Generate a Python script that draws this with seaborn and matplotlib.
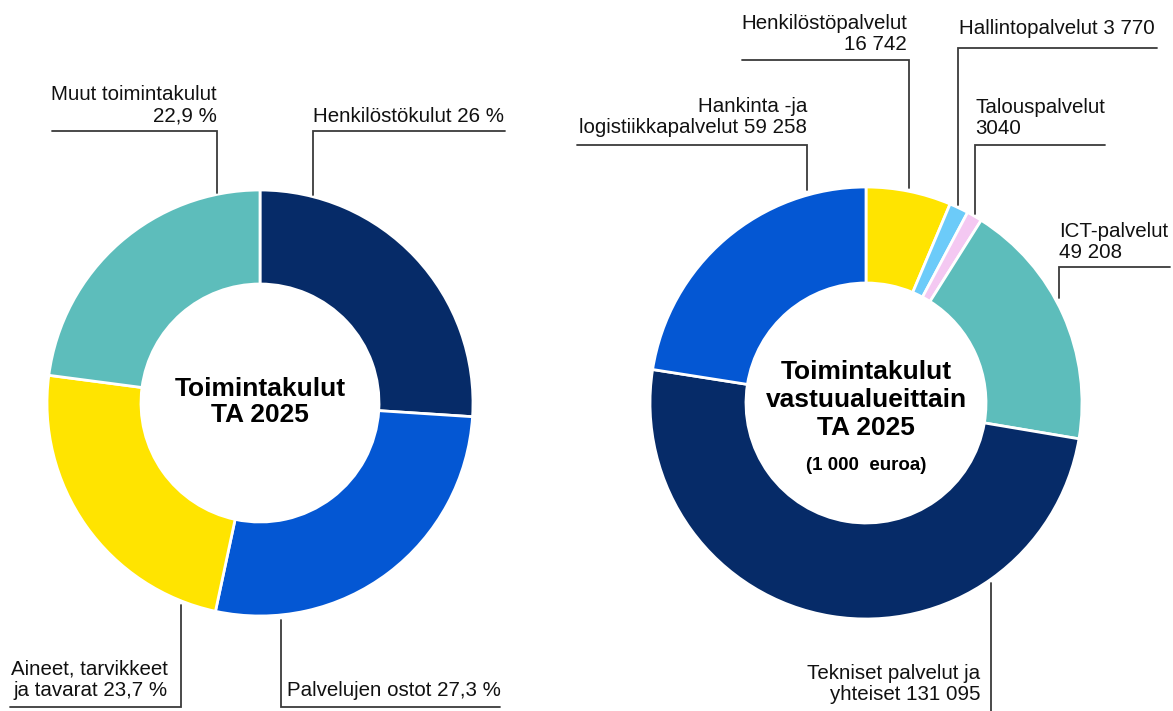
import matplotlib
matplotlib.use("Agg")
import matplotlib.pyplot as plt
import seaborn as sns

# Vasen kaavio: toimintakulut (%)
left_categories = ["Henkilöstökulut", "Palvelujen ostot", "Aineet, tarvikkeet ja tavarat", "Muut toimintakulut"]
left_values = [26.0, 27.3, 23.7, 22.9]
left_texts = ["Henkilöstökulut 26 %", "Palvelujen ostot 27,3 %",
              "Aineet, tarvikkeet\nja tavarat 23,7 %", "Muut toimintakulut\n22,9 %"]

# Oikea kaavio: vastuualueittain (1000 euroa)
right_categories = ["Henkilöstöpalvelut", "Hallintopalvelut", "Talouspalvelut",
                    "ICT-palvelut", "Tekniset palvelut ja yhteiset", "Hankinta- ja logistiikkapalvelut"]
right_values = [16742, 3770, 3040, 49208, 131095, 59258]
right_texts = ["Henkilöstöpalvelut\n16 742", "Hallintopalvelut 3 770", "Talouspalvelut\n3040",
               "ICT-palvelut\n49 208", "Tekniset palvelut ja\nyhteiset 131 095",
               "Hankinta -ja\nlogistiikkapalvelut 59 258"]

NAVY, BLUE, YELLOW, TEAL = "#062B68", "#0457D3", "#FFE400", "#5DBDBB"
left_colors = [NAVY, BLUE, YELLOW, TEAL]
right_colors = [YELLOW, "#6CCBF9", "#F4C8F2", TEAL, NAVY, BLUE]

W, H = 1173, 711

sns.set_theme(style="white")
plt.rcParams["font.family"] = ["Liberation Sans", "DejaVu Sans"]

fig = plt.figure(figsize=(W / 100, H / 100), dpi=100)
ax = fig.add_axes([0, 0, 1, 1])


def Y(y):
    # pikselikoordinaatti ylhäältä -> data-koordinaatti alhaalta
    return H - y


def donut(values, colors, cx, cy, r, hole):
    ax.pie(values, colors=sns.color_palette(colors), startangle=90, counterclock=False,
           radius=r, center=(cx, Y(cy)),
           wedgeprops=dict(width=r - hole, edgecolor="white", linewidth=2))


donut(left_values, left_colors, 260, 403, 213, 119)
donut(right_values, right_colors, 866, 403, 216, 120)

# selitetekstien sijainnit (x, y, ha) ja viivat
left_pos = [(313, 117, "left"), (287, 690, "left"), (168, 680, "right"), (217, 105, "right")]
left_lines = [[(505, 131), (313, 131), (313, 195)],
              [(500, 707), (281, 707), (281, 620)],
              [(10, 707), (181, 707), (181, 605)],
              [(52, 131), (217, 131), (217, 193)]]
right_pos = [(907, 34, "right"), (959, 28, "left"), (975, 118, "left"),
             (1059, 242, "left"), (980, 684, "right"), (807, 117, "right")]
right_lines = [[(742, 60), (909, 60), (909, 188)],
               [(1157, 48), (958, 48), (958, 205)],
               [(1105, 145), (975, 145), (975, 214)],
               [(1170, 267), (1059, 267), (1059, 298)],
               [(991, 583), (991, 711)],
               [(577, 145), (807, 145), (807, 190)]]

for texts, pos, lines in [(left_texts, left_pos, left_lines), (right_texts, right_pos, right_lines)]:
    for t, (x, y, ha), pts in zip(texts, pos, lines):
        ax.text(x, Y(y), t, ha=ha, va="center", fontsize=14.8, color="#111111", linespacing=1.18)
        ax.plot([p[0] for p in pts], [Y(p[1]) for p in pts], color="#3a3a3a", lw=1.3,
                solid_joinstyle="miter")

ax.text(260, Y(402), "Toimintakulut\nTA 2025", ha="center", va="center",
        fontsize=19, fontweight="bold", linespacing=1.12, color="black")
ax.text(866, Y(400), "Toimintakulut\nvastuualueittain\nTA 2025", ha="center", va="center",
        fontsize=19, fontweight="bold", linespacing=1.22, color="black")
ax.text(866, Y(465), "(1 000  euroa)", ha="center", va="center",
        fontsize=13.5, fontweight="bold", color="black")

ax.set_xlim(0, W)
ax.set_ylim(0, H)
ax.set_aspect("auto")
ax.axis("off")

fig.savefig("out.png", dpi=100, facecolor="white")
